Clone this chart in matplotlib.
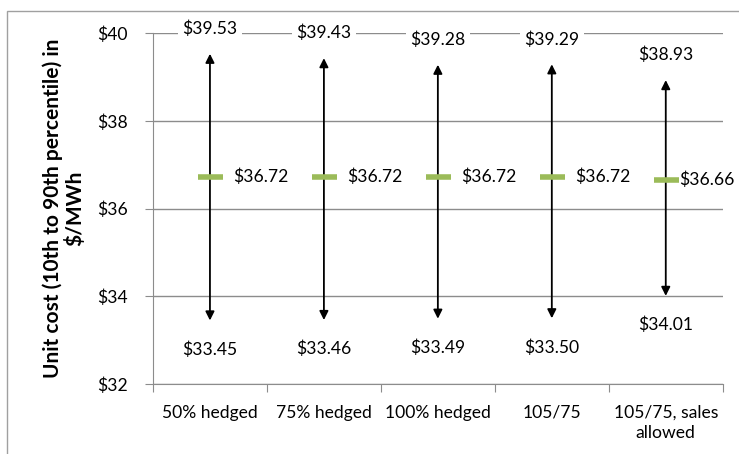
import matplotlib
matplotlib.use("Agg")
import matplotlib.pyplot as plt
from matplotlib.patches import Rectangle

# データ
categories = ["50% hedged", "75% hedged", "100% hedged", "105/75", "105/75, sales\nallowed"]
p90 = [39.53, 39.43, 39.28, 39.29, 38.93]
p10 = [33.45, 33.46, 33.49, 33.50, 34.01]
mean = [36.72, 36.72, 36.72, 36.72, 36.66]
yticks = [32, 34, 36, 38, 40]

plt.rcParams["font.family"] = ["Lato", "DejaVu Sans"]
FS = 12.6

fig = plt.figure(figsize=(7.39, 4.54), dpi=100)
ax = fig.add_axes([0.207, 0.154, 0.771, 0.773])

# 外枠
fig.patches.append(Rectangle((7 / 739, -0.1), 1.2, 1.1 - 11 / 454,
                             transform=fig.transFigure, fill=False,
                             edgecolor="#a0a0a0", linewidth=1.0))

grid_c = "#8c8c8c"
xs = [i + 0.5 for i in range(len(categories))]

for i, (x, hi, lo, m) in enumerate(zip(xs, p90, p10, mean)):
    ax.annotate("", xy=(x, hi), xytext=(x, lo),
                arrowprops=dict(arrowstyle="<|-|>", color="black", lw=1.3,
                                mutation_scale=13, shrinkA=0, shrinkB=0),
                zorder=3)
    ax.plot([x], [m], marker="_", markersize=18, mew=4, color="#9bbb59", zorder=4)
    ax.annotate(f"${hi:.2f}", xy=(x, hi), xytext=(0, 18), textcoords="offset points",
                ha="center", va="center", fontsize=FS,
                bbox=dict(boxstyle="square,pad=0.25", fc="white", ec="none"), zorder=5)
    ax.annotate(f"${lo:.2f}", xy=(x, lo), xytext=(0, -21), textcoords="offset points",
                ha="center", va="center", fontsize=FS, zorder=5)
    # 最後のラベルは右端に寄せる
    dx = 10 if i == len(xs) - 1 else 17
    ax.annotate(f"${m:.2f}", xy=(x, m), xytext=(dx, 0), textcoords="offset points",
                ha="left", va="center", fontsize=FS, zorder=5)

ax.set_xlim(0, 5)
ax.set_ylim(32, 40)
ax.set_yticks(yticks)
ax.set_yticklabels([f"${v}" for v in yticks], fontsize=FS)
ax.yaxis.grid(True, color=grid_c, linewidth=1.0)
ax.set_axisbelow(True)

ax.set_xticks(range(6))
ax.set_xticklabels([])
ax.set_xticks(xs, minor=True)
ax.set_xticklabels(categories, minor=True, fontsize=FS, linespacing=1.35)
ax.tick_params(axis="x", which="minor", length=0, pad=15)
ax.tick_params(axis="x", which="major", length=6, color=grid_c)
ax.tick_params(axis="y", length=6, color=grid_c, pad=12)

for s in ["top", "right"]:
    ax.spines[s].set_visible(False)
for s in ["left", "bottom"]:
    ax.spines[s].set_color(grid_c)

# 縦軸タイトル（図座標で配置）
fig.text(64 / 739, 1 - 208 / 454, "Unit cost (10th to 90th percentile) in\n$/MWh",
         rotation=90, ha="center", va="center", multialignment="center",
         fontsize=15, fontweight="bold", linespacing=1.1)

fig.savefig("out.png", dpi=100)
